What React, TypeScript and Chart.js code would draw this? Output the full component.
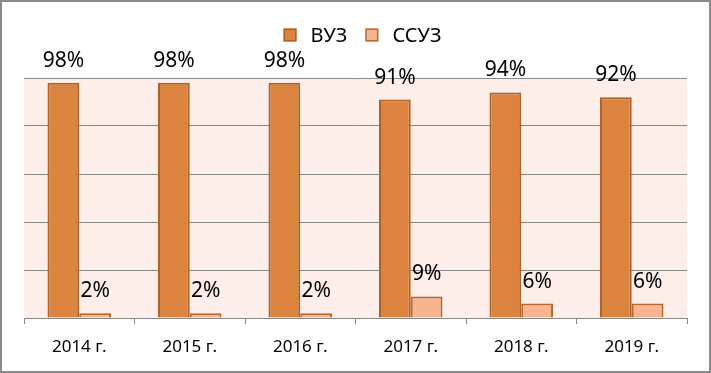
import React, { useEffect, useRef } from 'react';
import { Chart, registerables } from 'chart.js';

Chart.register(...registerables);

const categories = ['2014 г.', '2015 г.', '2016 г.', '2017 г.', '2018 г.', '2019 г.'];
const seriesNames = ['ВУЗ', 'ССУЗ'];
const vuzValues = [98, 98, 98, 91, 94, 92];
const ssuzValues = [2, 2, 2, 9, 6, 6];
const yTickStep = 20;
const yMax = 100;

const FONT = "'Noto Sans', sans-serif";
const W = 711;
const H = 373;

const bgPlugin = {
  id: 'bgPlugin',
  beforeDraw(chart: any) {
    const { ctx, chartArea: a, width, height } = chart;
    ctx.save();
    ctx.fillStyle = '#ffffff';
    ctx.fillRect(0, 0, width, height);
    ctx.fillStyle = '#FDEEEA';
    ctx.fillRect(a.left, a.top, a.right - a.left, a.bottom - a.top);
    ctx.restore();
  },
  afterDraw(chart: any) {
    const { ctx, width, height } = chart;
    ctx.save();
    ctx.strokeStyle = '#8a8a8a';
    ctx.lineWidth = 2;
    ctx.strokeRect(1, 1, width - 2, height - 2);
    ctx.restore();
  },
};

const legendPlugin = {
  id: 'customLegend',
  afterDraw(chart: any) {
    const { ctx } = chart;
    const ds = chart.data.datasets;
    ctx.save();
    ctx.font = `20px ${FONT}`;
    ctx.textBaseline = 'middle';
    ctx.textAlign = 'left';
    const box = 13;
    const gapText = 14;
    const gapItem = 18;
    const widths = ds.map((d: any) => box + gapText + ctx.measureText(d.label).width);
    const total = widths.reduce((s: number, w: number) => s + w, 0) + gapItem * (ds.length - 1);
    let x = (chart.chartArea.left + chart.chartArea.right) / 2 - total / 2 + 7;
    const cy = 35;
    ds.forEach((d: any, i: number) => {
      ctx.fillStyle = d.backgroundColor;
      ctx.fillRect(x, cy - box / 2, box, box);
      ctx.strokeStyle = d.borderColor;
      ctx.lineWidth = 1.5;
      ctx.strokeRect(x + 0.75, cy - box / 2 + 0.75, box - 1.5, box - 1.5);
      ctx.fillStyle = '#000';
      ctx.fillText(d.label, x + box + gapText, cy + 1);
      x += widths[i] + gapItem;
    });
    ctx.restore();
  },
};

const labelPlugin = {
  id: 'valueLabels',
  afterDatasetsDraw(chart: any) {
    const { ctx } = chart;
    ctx.save();
    ctx.font = `21px ${FONT}`;
    ctx.fillStyle = '#000';
    ctx.textAlign = 'center';
    ctx.textBaseline = 'middle';
    chart.data.datasets.forEach((d: any, di: number) => {
      const meta = chart.getDatasetMeta(di);
      meta.data.forEach((el: any, i: number) => {
        ctx.fillText(`${d.data[i]}%`, el.x, el.y - 22);
      });
    });
    ctx.restore();
  },
};

export default function App() {
  const ref = useRef<HTMLCanvasElement>(null);

  useEffect(() => {
    if (!ref.current) return;
    const chart = new Chart(ref.current, {
      type: 'bar',
      data: {
        labels: categories,
        datasets: [
          {
            label: seriesNames[0],
            data: vuzValues,
            backgroundColor: '#DC843F',
            borderColor: '#AE6129',
            borderWidth: 2,
            categoryPercentage: 0.575,
            barPercentage: 1,
          },
          {
            label: seriesNames[1],
            data: ssuzValues,
            backgroundColor: '#F9B592',
            borderColor: '#B5692E',
            borderWidth: 2,
            categoryPercentage: 0.575,
            barPercentage: 1,
          },
        ],
      },
      options: {
        responsive: false,
        animation: false,
        layout: { padding: { left: 24, right: 24, top: 78, bottom: 0 } },
        plugins: {
          legend: { display: false },
          tooltip: { enabled: false },
        },
        scales: {
          x: {
            grid: {
              drawOnChartArea: false,
              drawTicks: true,
              tickLength: 6,
              color: '#888888',
            },
            border: { display: true, color: '#888888', width: 1 },
            ticks: {
              color: '#000',
              font: { family: FONT, size: 17 },
              padding: 13,
              maxRotation: 0,
            },
            afterFit(scale: any) {
              scale.height = 55;
            },
          },
          y: {
            min: 0,
            max: yMax,
            ticks: { display: false, stepSize: yTickStep },
            grid: { color: '#888888', drawTicks: false, lineWidth: 1 },
            border: { display: false },
            afterFit(scale: any) {
              scale.width = 0;
            },
          },
        },
      },
      plugins: [bgPlugin, labelPlugin, legendPlugin],
    });
    return () => chart.destroy();
  }, []);

  return (
    <div style={{ position: 'fixed', left: 0, top: 0, width: W, height: H }}>
      <canvas ref={ref} width={W} height={H} style={{ display: 'block' }} />
    </div>
  );
}
